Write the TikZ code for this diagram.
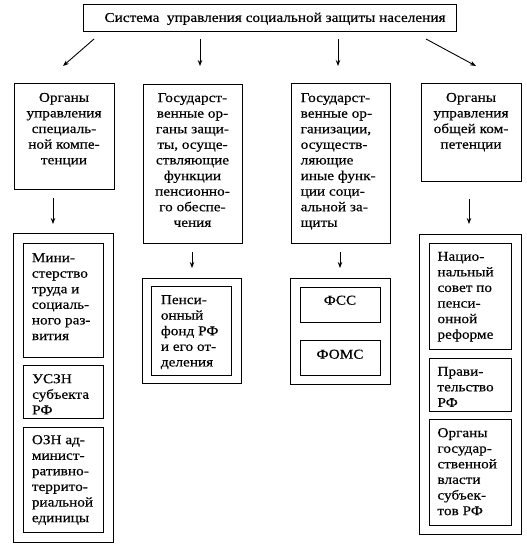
\documentclass[tikz,border=0pt]{standalone}
\usepackage{fontspec}
\setmainfont{Liberation Serif}[FakeStretch=1.13,FakeBold=0.4]
\usetikzlibrary{arrows.meta}
\begin{document}
\begin{tikzpicture}[x=1pt,y=-1pt,
  box/.style={draw,line width=1pt,inner sep=0pt,anchor=north west},
  txt/.style={inner sep=0pt,font=\fontsize{13.5}{15.6}\selectfont},
  txtc/.style={txt,align=center,anchor=north},
  txtl/.style={txt,align=left,anchor=north west},
  arr/.style={line width=0.9pt,-{Stealth[length=6pt,width=4.5pt]}}]
\useasboundingbox (0,0) rectangle (527,544);
% top box
\node[box,minimum width=373pt,minimum height=27pt] (top) at (83,4) {};
\node[txtc] (toptxt) at (275,12.5) {Система\ \ управления социальной защиты населения};
% level 1 boxes
\node[box,minimum width=100pt,minimum height=106pt] (b1) at (14,83) {};
\node[box,minimum width=99pt,minimum height=159pt] (b2) at (143,84) {};
\node[box,minimum width=99pt,minimum height=160pt] (b3) at (291,83) {};
\node[box,minimum width=100pt,minimum height=98pt] (b4) at (421,83) {};
\node[txtc] (t1) at (64,92.7) {Органы\\управления\\специаль-\\ной компе-\\тенции};
\node[txtc] (t2) at (192.5,93) {Государст-\\венные ор-\\ганы защи-\\ты, осуще-\\ствляющие\\функции\\пенсионно-\\го обеспе-\\чения};
\node[txtl] (t3) at (300.5,93) {Государст-\\венные ор-\\ганизации,\\осуществ-\\ляющие\\иные функ-\\ции соци-\\альной за-\\щиты};
\node[txtc] (t4) at (471,92.7) {Органы\\управления\\общей ком-\\петенции};
% arrows from top
\coordinate (a1s) at (94,39); \coordinate (a1e) at (63,66);
\coordinate (a2s) at (200,39); \coordinate (a2e) at (200,66);
\coordinate (a3s) at (338,39); \coordinate (a3e) at (338,66);
\coordinate (a4s) at (426,39); \coordinate (a4e) at (476,66);
\draw[arr] (a1s) -- (a1e);
\draw[arr] (a2s) -- (a2e);
\draw[arr] (a3s) -- (a3e);
\draw[arr] (a4s) -- (a4e);
% outer boxes
\node[box,minimum width=100pt,minimum height=309pt] (o1) at (13,233) {};
\node[box,minimum width=99pt,minimum height=105pt] (o2) at (142,278) {};
\node[box,minimum width=100pt,minimum height=106pt] (o3) at (290,278) {};
\node[box,minimum width=102pt,minimum height=300pt] (o4) at (419,234) {};
% arrows to outer boxes
\coordinate (c1s) at (53,198); \coordinate (c1e) at (53,224);
\coordinate (c2s) at (192,252); \coordinate (c2e) at (192,268);
\coordinate (c3s) at (340,252); \coordinate (c3e) at (340,268);
\coordinate (c4s) at (469,199); \coordinate (c4e) at (469,224);
\draw[arr] (c1s) -- (c1e);
\draw[arr] (c2s) -- (c2e);
\draw[arr] (c3s) -- (c3e);
\draw[arr] (c4s) -- (c4e);
% inner boxes column 1
\node[box,minimum width=80pt,minimum height=114pt] (i1a) at (23,243) {};
\node[box,minimum width=80pt,minimum height=53pt] (i1b) at (23,365) {};
\node[box,minimum width=80pt,minimum height=105pt] (i1c) at (23,427) {};
\node[txtl] (ti1a) at (31.7,253) {Мини-\\стерство\\труда и\\социаль-\\ного раз-\\вития};
\node[txtl] (ti1b) at (32,374) {УСЗН\\субъекта\\РФ};
\node[txtl] (ti1c) at (31.7,435) {ОЗН ад-\\минист-\\ративно-\\террито-\\риальной\\единицы};
% column 2
\node[box,minimum width=80pt,minimum height=89pt] (i2) at (151,286) {};
\node[txtl] (ti2) at (160.7,295) {Пенси-\\онный\\фонд РФ\\и его от-\\деления};
% column 3
\node[box,minimum width=80pt,minimum height=35pt] (i3a) at (300,287) {};
\node[box,minimum width=80pt,minimum height=35pt] (i3b) at (300,340) {};
\node[txtc] (ti3a) at (340,295.5) {ФСС};
\node[txtc] (ti3b) at (340,349.5) {ФОМС};
% column 4
\node[box,minimum width=82pt,minimum height=106pt] (i4a) at (429,243) {};
\node[box,minimum width=82pt,minimum height=53pt] (i4b) at (429,358) {};
\node[box,minimum width=82pt,minimum height=106pt] (i4c) at (429,419) {};
\node[txtl] (ti4a) at (437.3,251.7) {Нацио-\\нальный\\совет по\\пенси-\\онной\\реформе};
\node[txtl] (ti4b) at (437.3,366.7) {Прави-\\тельство\\РФ};
\node[txtl] (ti4c) at (437.3,428) {Органы\\государ-\\ственной\\власти\\субъек-\\тов РФ};
\end{tikzpicture}
\end{document}
